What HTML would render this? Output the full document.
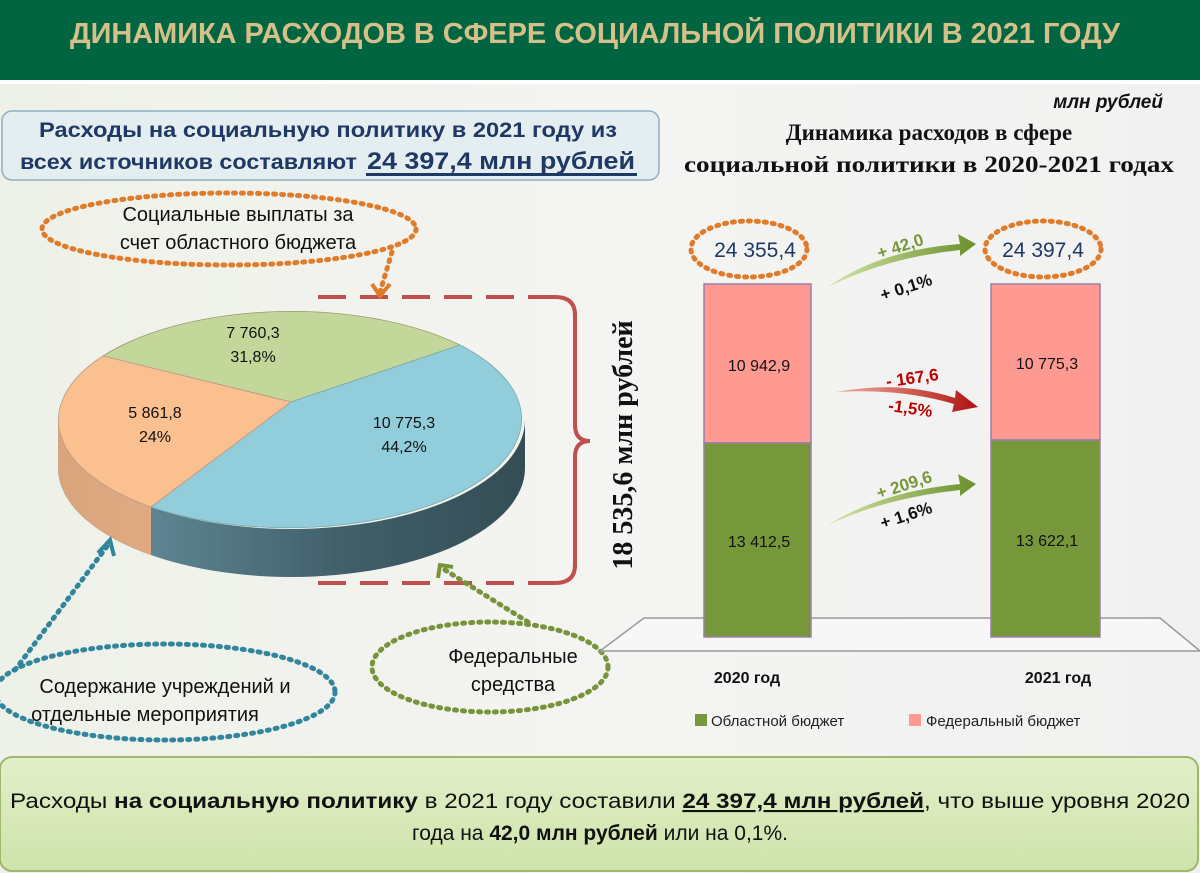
<!DOCTYPE html>
<html><head><meta charset="utf-8">
<style>
body{margin:0;width:1200px;height:873px;overflow:hidden;background:linear-gradient(90deg,#eef1e8,#f4f4f2 50%,#f1f1f1);font-family:"Liberation Sans",sans-serif}
</style></head><body>
<svg width="1200" height="873" xmlns="http://www.w3.org/2000/svg" style="position:absolute;left:0;top:0">
<defs>
<linearGradient id="bs" x1="0" x2="1"><stop offset="0" stop-color="#6d97a6"/><stop offset="0.6" stop-color="#41606b"/><stop offset="1" stop-color="#344d55"/></linearGradient>
<linearGradient id="os" x1="0" x2="1"><stop offset="0" stop-color="#d9a47c"/><stop offset="1" stop-color="#e0a981"/></linearGradient>
<linearGradient id="bot" x1="0" y1="0" x2="0" y2="1"><stop offset="0" stop-color="#e2efc9"/><stop offset="1" stop-color="#cfe3ab"/></linearGradient>
<linearGradient id="ga" x1="0" x2="1"><stop offset="0" stop-color="#d3e6a6"/><stop offset="1" stop-color="#6b8f2a"/></linearGradient>
<linearGradient id="ra" x1="0" x2="1"><stop offset="0" stop-color="#f0b0a0"/><stop offset="1" stop-color="#b01010"/></linearGradient>
</defs>
<rect x="0" y="0" width="1200" height="80" fill="#006540"/>
<rect x="0" y="80" width="1200" height="4" fill="#fff"/>
<text x="595" y="43" text-anchor="middle" font-size="29" font-weight="bold" fill="#d6c08a" textLength="1050" lengthAdjust="spacingAndGlyphs">ДИНАМИКА РАСХОДОВ В СФЕРЕ СОЦИАЛЬНОЙ ПОЛИТИКИ В 2021 ГОДУ</text>

<rect x="2" y="111" width="657" height="69" rx="10" fill="#e4eef0" stroke="#8fb0c0" stroke-width="1.5"/>
<text x="328" y="137" text-anchor="middle" font-size="21" font-weight="bold" fill="#1f3864" textLength="578" lengthAdjust="spacingAndGlyphs">Расходы на социальную политику в 2021 году из</text>
<text x="20" y="169" font-size="21" font-weight="bold" fill="#1f3864" textLength="337" lengthAdjust="spacingAndGlyphs">всех источников составляют</text>
<text x="367" y="169" font-size="24" font-weight="bold" fill="#1f3864" textLength="268" lengthAdjust="spacingAndGlyphs">24 397,4 млн рублей</text>
<rect x="366" y="173" width="271" height="3" fill="#1f3864"/>

<text x="1163" y="108" text-anchor="end" font-size="19" font-weight="bold" font-style="italic" fill="#111">млн рублей</text>
<text x="929" y="140" text-anchor="middle" font-size="23" font-weight="bold" fill="#111" font-family="Liberation Serif,serif">Динамика расходов в сфере</text>
<text x="929" y="172" text-anchor="middle" font-size="23" font-weight="bold" fill="#111" font-family="Liberation Serif,serif" textLength="490" lengthAdjust="spacingAndGlyphs">социальной политики в 2020-2021 годах</text>

<path d="M58,420 A233.5,109 0 0,0 525,420 L525,468 A233.5,109 0 0,1 58,468 Z" fill="url(#bs)"/>
<path d="M58,420 A233.5,109 0 0,0 151,507 L151,555 A233.5,109 0 0,1 58,468 Z" fill="url(#os)"/>
<path d="M291,402 L103,356 A233.5,109 0 0,1 460,345 Z" fill="#c4d79b" stroke="#9a9a6a" stroke-width="0.8"/>
<path d="M291,402 L460,345 A233.5,109 0 0,1 151,507 Z" fill="#92cddc" stroke="#7aa" stroke-width="0.8"/>
<path d="M291,402 L151,507 A233.5,109 0 0,1 103,356 Z" fill="#fac090" stroke="#b98" stroke-width="0.8"/>
<g font-size="16" fill="#111" text-anchor="middle">
<text x="253" y="338">7 760,3</text><text x="253" y="362">31,8%</text>
<text x="155" y="418">5 861,8</text><text x="155" y="442">24%</text>
<text x="404" y="428">10 775,3</text><text x="404" y="452">44,2%</text>
</g>
<g stroke="#c0504d" stroke-width="4" fill="none">
<path d="M318,297 H555" stroke-dasharray="28,14"/>
<path d="M318,583 H555" stroke-dasharray="28,14"/>
<path d="M555,297 Q575,297 575,315 V425 Q575,441 590,441 Q575,441 575,457 V565 Q575,583 555,583"/>
</g>
<text transform="translate(632,445) rotate(-90)" text-anchor="middle" font-size="28" font-weight="bold" fill="#111" font-family="Liberation Serif,serif">18 535,6 млн рублей</text>

<g fill="none" stroke-width="5" stroke-dasharray="2,6" stroke-linecap="round">
<ellipse cx="229" cy="229" rx="187" ry="36" stroke="#e07b2a"/>
<path d="M392,252 L380,292" stroke="#e07b2a"/>
<ellipse cx="165" cy="692" rx="170" ry="48" stroke="#31859c"/>
<path d="M15,670 L108,545" stroke="#31859c"/>
<ellipse cx="490" cy="667" rx="118" ry="45" stroke="#77933c"/>
<path d="M528,622 L445,570" stroke="#77933c"/>
<ellipse cx="749" cy="249" rx="58" ry="28" stroke="#e07b2a"/>
<ellipse cx="1043" cy="249" rx="58" ry="28" stroke="#e07b2a"/>
</g>
<path d="M372,284 L380,296 L390,284" fill="none" stroke="#e07b2a" stroke-width="4"/>
<path d="M98,553 L110,540 L114,556" fill="none" stroke="#31859c" stroke-width="4"/>
<path d="M438,578 L440,565 L453,567" fill="none" stroke="#77933c" stroke-width="4"/>
<g font-size="20" fill="#111" text-anchor="middle">
<text x="238" y="221">Социальные выплаты за</text>
<text x="238" y="249">счет областного бюджета</text>
<text x="165" y="693">Содержание учреждений и</text>
<text x="145" y="721">отдельные мероприятия</text>
<text x="513" y="663">Федеральные</text>
<text x="513" y="691">средства</text>
</g>
<g font-size="21" fill="#1f3864" text-anchor="middle"><text x="755" y="257">24 355,4</text><text x="1043" y="257">24 397,4</text></g>

<path d="M644,618 H1160 L1200,651 H600 Z" fill="#f7f7f7" stroke="#999" stroke-width="1.5"/>
<rect x="704" y="284" width="107" height="159" fill="#ff9a93" stroke="#9b7fa8" stroke-width="1.5"/>
<rect x="704" y="443" width="107" height="194" fill="#77983a" stroke="#9b7fa8" stroke-width="1.5"/>
<rect x="991" y="284" width="109" height="156" fill="#ff9a93" stroke="#9b7fa8" stroke-width="1.5"/>
<rect x="991" y="440" width="109" height="197" fill="#77983a" stroke="#9b7fa8" stroke-width="1.5"/>
<g font-size="16" fill="#111" text-anchor="middle">
<text x="759" y="371">10 942,9</text><text x="759" y="547">13 412,5</text>
<text x="1047" y="369">10 775,3</text><text x="1047" y="546">13 622,1</text>
</g>
<g font-size="16" font-weight="bold" fill="#111" text-anchor="middle"><text x="747" y="683">2020 год</text><text x="1058" y="683">2021 год</text></g>
<rect x="695" y="714" width="12" height="12" fill="#77983a"/>
<text x="711" y="726" font-size="15" fill="#222">Областной бюджет</text>
<rect x="909" y="714" width="12" height="12" fill="#ff9a93"/>
<text x="926" y="726" font-size="15" fill="#222">Федеральный бюджет</text>

<path d="M828,287 Q880,250 960,244 L958,234 L976,244 L960,256 L960,250 Q885,258 828,287 Z" fill="url(#ga)"/>
<path d="M828,525 Q880,492 960,484 L958,474 L976,484 L960,496 L960,490 Q885,498 828,525 Z" fill="url(#ga)"/>
<path d="M836,392 Q900,380 955,398 L956,390 L978,407 L952,412 L954,404 Q900,388 836,392 Z" fill="url(#ra)"/>
<g font-size="17" font-weight="bold">
<text x="876" y="252" fill="#77983a" transform="rotate(-18 900 245)">+ 42,0</text>
<text x="880" y="295" fill="#111" transform="rotate(-18 900 290)">+ 0,1%</text>
<text x="886" y="384" fill="#c00000" transform="rotate(-8 910 380)">- 167,6</text>
<text x="888" y="414" fill="#c00000" transform="rotate(8 910 410)">-1,5%</text>
<text x="876" y="492" fill="#77983a" transform="rotate(-18 900 487)">+ 209,6</text>
<text x="880" y="523" fill="#111" transform="rotate(-18 900 518)">+ 1,6%</text>
</g>

<rect x="0" y="757" width="1198" height="114" rx="12" fill="url(#bot)" stroke="#9fb86e" stroke-width="2"/>
<text x="600" y="808" text-anchor="middle" font-size="21" fill="#111" textLength="1180" lengthAdjust="spacingAndGlyphs">Расходы <tspan font-weight="bold">на социальную политику</tspan> в 2021 году составили <tspan font-weight="bold" text-decoration="underline">24 397,4 млн рублей</tspan>, что выше уровня 2020</text>
<text x="600" y="840" text-anchor="middle" font-size="21" fill="#111">года на <tspan font-weight="bold">42,0 млн рублей</tspan> или на 0,1%.</text>
</svg>
</body></html>
